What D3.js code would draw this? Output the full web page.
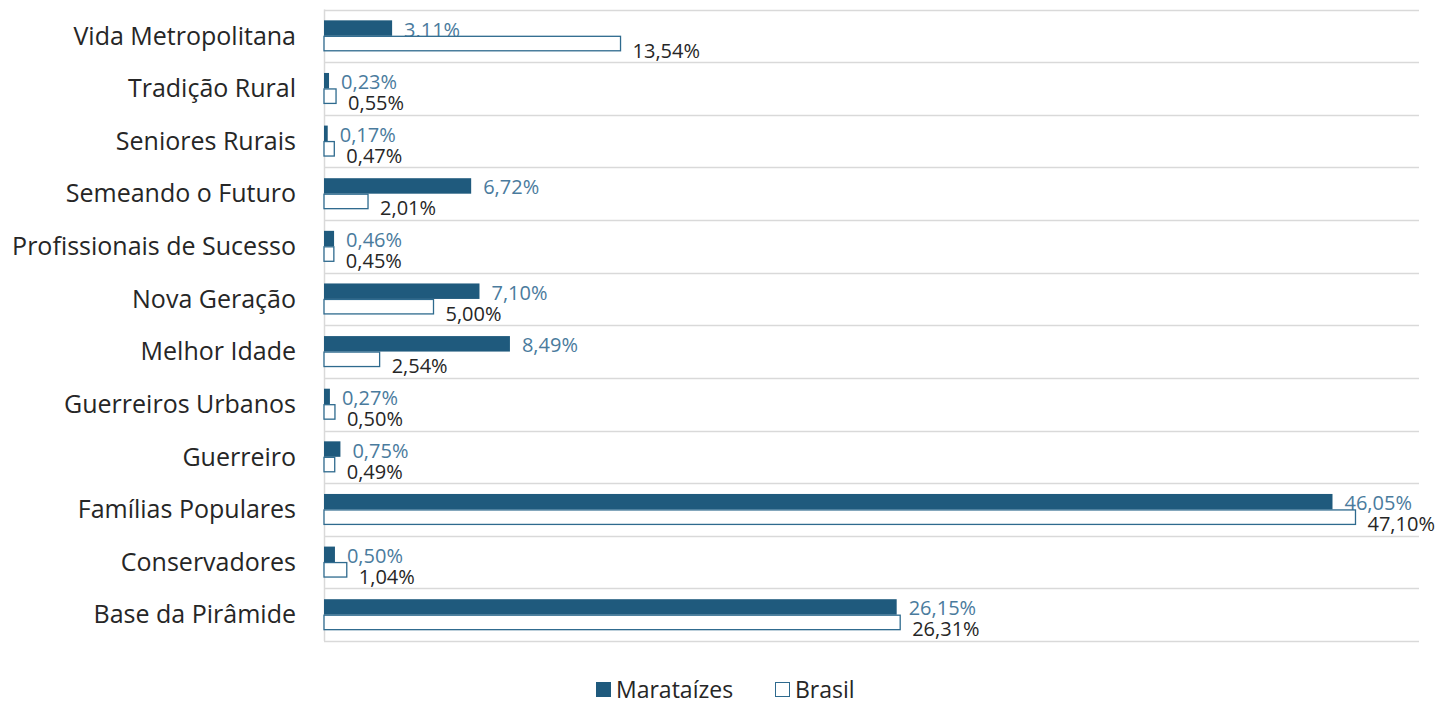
<!DOCTYPE html>
<html>
<head>
<meta charset="utf-8">
<script src="https://cdn.jsdelivr.net/npm/d3@7/dist/d3.min.js"></script>
<style>
  body { margin: 0; background: #fff; }
  text { font-family: "Open Sans", "Noto Sans", sans-serif; }
</style>
</head>
<body>
<div id="content"></div>
<script>
// categories, top to bottom
const categories = ["Vida Metropolitana", "Tradição Rural", "Seniores Rurais", "Semeando o Futuro",
  "Profissionais de Sucesso", "Nova Geração", "Melhor Idade", "Guerreiros Urbanos", "Guerreiro",
  "Famílias Populares", "Conservadores", "Base da Pirâmide"];
const series = ["Marataízes", "Brasil"];
const marataizes = [3.11, 0.23, 0.17, 6.72, 0.46, 7.10, 8.49, 0.27, 0.75, 46.05, 0.50, 26.15];
const brasil = [13.54, 0.55, 0.47, 2.01, 0.45, 5.00, 2.54, 0.50, 0.49, 47.10, 1.04, 26.31];

const W = 1443, H = 706;
const blue = "#1f5a7d";

let rows = categories.map((c, i) => ({cat: c, vals: [marataizes[i], brasil[i]]}));

let svg = d3.select("#content").append("svg")
    .attr("width", W).attr("height", H);

let x = d3.scaleLinear().domain([0, 50]).range([324, 1419]);
let y = d3.scaleBand().domain(categories).range([9.5, 641]);
let ys = d3.scaleBand().domain(series).range([0, y.bandwidth()]).paddingOuter(0.7);

// gridlines between categories
svg.append("g").selectAll("line")
    .data(d3.range(categories.length + 1))
    .enter().append("line")
    .attr("x1", 324).attr("x2", 1419)
    .attr("y1", i => Math.round(9.5 + i * y.step()) + 0.5)
    .attr("y2", i => Math.round(9.5 + i * y.step()) + 0.5)
    .style("stroke", "#d9d9d9").style("stroke-width", 1.5);

svg.append("line")
    .attr("x1", 324.5).attr("x2", 324.5).attr("y1", 9.5).attr("y2", 641)
    .style("stroke", "#d9d9d9").style("stroke-width", 1.5);

// category labels
svg.append("g").selectAll("text")
    .data(categories)
    .enter().append("text")
    .attr("x", 296)
    .attr("y", d => y(d) + y.bandwidth() / 2)
    .attr("dy", "0.35em")
    .attr("text-anchor", "end")
    .style("font-size", "25px")
    .style("fill", "#262626")
    .text(d => d);

let groups = svg.append("g").selectAll("g")
    .data(rows)
    .enter().append("g")
    .attr("transform", d => `translate(0,${y(d.cat)})`);

// labels for Marataízes drawn first so the Brasil bar sits on top
groups.append("text")
    .attr("x", d => x(d.vals[0]) + 12)
    .attr("y", ys("Marataízes") + ys.bandwidth() / 2 + 1.5)
    .attr("dy", "0.35em")
    .style("font-size", "20px")
    .style("fill", "#4a7b9d")
    .text(d => d.vals[0].toFixed(2).replace(".", ",") + "%");

groups.append("rect")
    .attr("x", x(0))
    .attr("y", ys("Marataízes"))
    .attr("width", d => x(d.vals[0]) - x(0))
    .attr("height", ys.bandwidth())
    .style("fill", blue);

groups.append("rect")
    .attr("x", x(0))
    .attr("y", ys("Brasil") + 0.5)
    .attr("width", d => x(d.vals[1]) - x(0))
    .attr("height", ys.bandwidth() - 1)
    .style("fill", "#fff")
    .style("stroke", "#2e6a8e")
    .style("stroke-width", 1.3);

groups.append("text")
    .attr("x", d => x(d.vals[1]) + 12)
    .attr("y", ys("Brasil") + ys.bandwidth() / 2 + 7)
    .attr("dy", "0.35em")
    .style("font-size", "20px")
    .style("fill", "#262626")
    .text(d => d.vals[1].toFixed(2).replace(".", ",") + "%");

// legend
let legend = svg.append("g").attr("transform", "translate(596,682)");
legend.append("rect").attr("width", 15).attr("height", 15).style("fill", blue);
legend.append("text").attr("x", 20).attr("y", 7.5).attr("dy", "0.35em")
    .style("font-size", "23px").style("fill", "#262626").text("Marataízes");
legend.append("rect").attr("x", 179.5).attr("y", 0.5).attr("width", 14).attr("height", 14)
    .style("fill", "#fff").style("stroke", "#2e6a8e").style("stroke-width", 1);
legend.append("text").attr("x", 199).attr("y", 7.5).attr("dy", "0.35em")
    .style("font-size", "23px").style("fill", "#262626").text("Brasil");
</script>
</body>
</html>
